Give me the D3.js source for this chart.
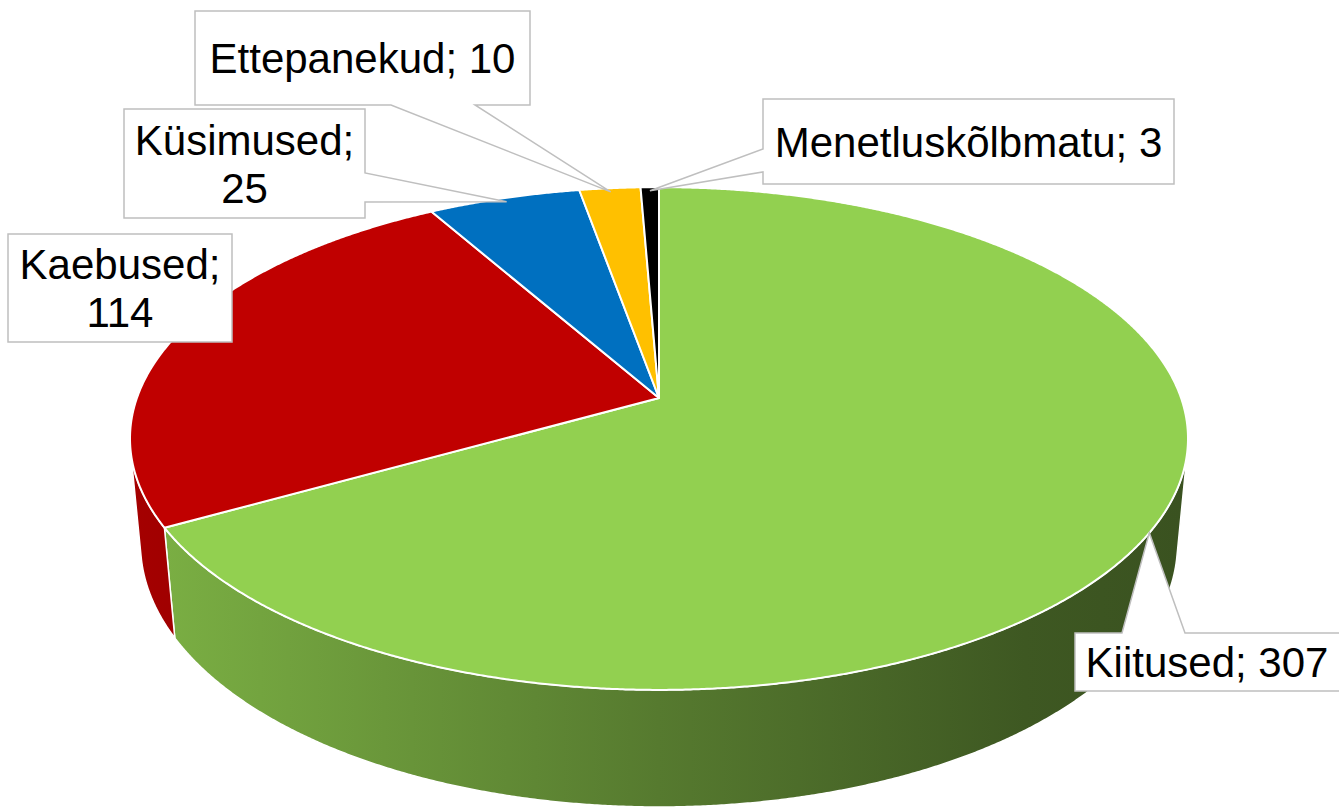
<!DOCTYPE html>
<html>
<head>
<meta charset="utf-8">
<script src="https://cdn.jsdelivr.net/npm/d3@7"></script>
<style>
  html, body { margin: 0; padding: 0; background: #fff; }
  #chart text { font-family: "Liberation Sans", Arial, sans-serif; }
</style>
</head>
<body>
<div id="chart"></div>
<script>
// data
const categories = ["Kiitused", "Kaebused", "Küsimused", "Ettepanekud", "Menetluskõlbmatu"];
const values = [307, 114, 25, 10, 3];
const colors = ["#92D050", "#C00000", "#0070C0", "#FFC000", "#000000"];

const width = 1339;
const height = 809;

// 3d view of the pie (radius = 1 unit)
const view = { cx: 659, cy: 398, focal: 2861, dist: 5.48, tilt: Math.asin(0.469), depth: 0.2305 };
const sinT = Math.sin(view.tilt);
const cosT = Math.cos(view.tilt);

// callout boxes, one per slice
const callouts = [
  { x: 1075, y: 633, w: 275, h: 58, wrap: false, side: "top", base: [1122, 1185], r: 1.0 },
  { x: 8, y: 234, w: 224, h: 108, wrap: true, side: null },
  { x: 124, y: 109, w: 241, h: 109, wrap: true, side: "right", base: [173, 202], r: 0.98 },
  { x: 195, y: 11, w: 335, h: 94, wrap: false, side: "bottom", base: [391, 475], r: 0.98 },
  { x: 763, y: 99, w: 411, h: 85, wrap: false, side: "left", base: [149, 172], r: 0.98 }
];

function project(theta, r, h) {
  const u = r * Math.sin(theta);
  const v = -r * Math.cos(theta);
  const yc = h * cosT - v * sinT;
  const z = view.dist - v * cosT - h * sinT;
  return [view.cx + view.focal * u / z, view.cy - view.focal * yc / z];
}

function arcPoints(a0, a1, r, h) {
  const n = Math.max(2, Math.ceil((a1 - a0) / (Math.PI / 720)));
  return d3.range(n + 1).map(i => project(a0 + (a1 - a0) * i / n, r, h));
}

const data = categories.map((c, i) => ({ name: c, value: values[i], color: colors[i] }));
const arcs = d3.pie().sort(null).value(d => d.value)(data);

const svg = d3.select("#chart")
  .append("svg")
    .attr("width", width)
    .attr("height", height);

const closed = d3.line().curve(d3.curveLinearClosed);

// side shading
const defs = svg.append("defs");
const leftX = project(Math.PI * 1.5, 1, 0)[0];
const rightX = project(Math.PI * 0.5, 1, 0)[0];
arcs.forEach((a, i) => {
  const g = defs.append("linearGradient")
    .attr("id", `side-${i}`)
    .attr("gradientUnits", "userSpaceOnUse")
    .attr("x1", leftX).attr("x2", rightX)
    .attr("y1", 0).attr("y2", 0);
  const base = d3.color(a.data.color);
  g.append("stop").attr("offset", 0).attr("stop-color", base.darker(0.45));
  g.append("stop").attr("offset", 0.5).attr("stop-color", base.darker(1.5));
  g.append("stop").attr("offset", 0.85).attr("stop-color", base.darker(2.4));
  g.append("stop").attr("offset", 1).attr("stop-color", base.darker(2.6));
});

// outer wall, front facing part only
const edge = Math.acos(-1 / (view.dist * cosT));
const wallLo = edge, wallHi = 2 * Math.PI - edge;

svg.append("g")
  .selectAll("path")
  .data(arcs.filter(a => Math.min(a.endAngle, wallHi) > Math.max(a.startAngle, wallLo)))
  .join("path")
    .attr("d", a => {
      const lo = Math.max(a.startAngle, wallLo);
      const hi = Math.min(a.endAngle, wallHi);
      const top = arcPoints(lo, hi, 1, 0);
      const bottom = arcPoints(lo, hi, 1, -view.depth).reverse();
      return closed(top.concat(bottom));
    })
    .attr("fill", a => `url(#side-${a.index})`)
    .attr("stroke", "#fff")
    .attr("stroke-width", 1.5)
    .attr("stroke-linejoin", "round");

// top faces
svg.append("g")
  .selectAll("path")
  .data(arcs)
  .join("path")
    .attr("d", a => closed([project(0, 0, 0)].concat(arcPoints(a.startAngle, a.endAngle, 1, 0))))
    .attr("fill", a => a.data.color)
    .attr("stroke", "#fff")
    .attr("stroke-width", 2)
    .attr("stroke-linejoin", "round");

// callouts
function calloutPath(c, tip) {
  const x0 = c.x, y0 = c.y, x1 = c.x + c.w, y1 = c.y + c.h;
  const p = d3.path();
  p.moveTo(x0, y0);
  if (c.side === "top") {
    p.lineTo(c.base[0], y0); p.lineTo(tip[0], tip[1]); p.lineTo(c.base[1], y0);
  }
  p.lineTo(x1, y0);
  if (c.side === "right") {
    p.lineTo(x1, c.base[0]); p.lineTo(tip[0], tip[1]); p.lineTo(x1, c.base[1]);
  }
  p.lineTo(x1, y1);
  if (c.side === "bottom") {
    p.lineTo(c.base[1], y1); p.lineTo(tip[0], tip[1]); p.lineTo(c.base[0], y1);
  }
  p.lineTo(x0, y1);
  if (c.side === "left") {
    p.lineTo(x0, c.base[1]); p.lineTo(tip[0], tip[1]); p.lineTo(x0, c.base[0]);
  }
  p.closePath();
  return p.toString();
}

const labels = svg.append("g")
  .selectAll("g")
  .data(arcs)
  .join("g");

labels.append("path")
  .attr("d", a => {
    const c = callouts[a.index];
    const mid = (a.startAngle + a.endAngle) / 2;
    return calloutPath(c, c.side ? project(mid, c.r, 0) : null);
  })
  .attr("fill", "#fff")
  .attr("stroke", "#BFBFBF")
  .attr("stroke-width", 1.5);

labels.each(function(a) {
  const c = callouts[a.index];
  const lines = c.wrap ? [`${a.data.name};`, `${a.data.value}`] : [`${a.data.name}; ${a.data.value}`];
  const mid = c.y + c.h / 2;
  d3.select(this).selectAll("text")
    .data(lines)
    .join("text")
      .attr("x", c.x + (c.side === "top" ? 264 : c.w) / 2)
      .attr("y", (d, i) => mid + 15 + (i - (lines.length - 1) / 2) * 48)
      .attr("text-anchor", "middle")
      .attr("fill", "#000")
      .style("font-size", "42px")
      .text(d => d);
});
</script>
</body>
</html>
